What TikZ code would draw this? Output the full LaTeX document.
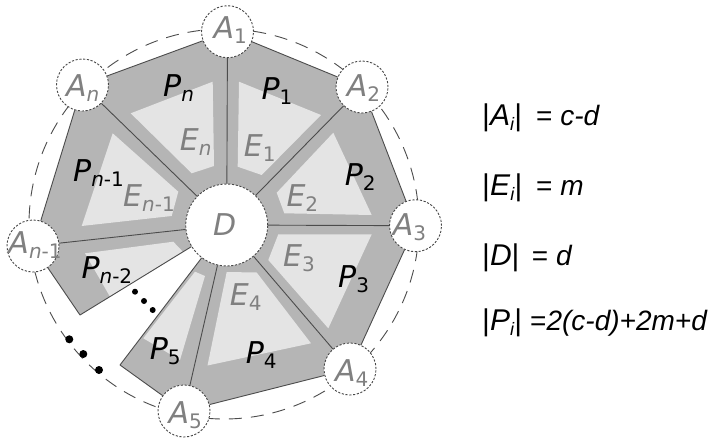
\documentclass[tikz,border=0pt]{standalone}
\usepackage{fontspec}
\setmainfont{DejaVu Sans}
\newfontfamily\arialf{Liberation Sans}
\definecolor{pgray}{gray}{0.71}
\definecolor{egray}{gray}{0.895}
\definecolor{lcol}{gray}{0.30}
\definecolor{ccol}{gray}{0.28}
\definecolor{tgray}{gray}{0.50}
\newcommand\sbs[1]{\raisebox{-5pt}{\fontsize{20}{20}\selectfont #1}}
\newcommand\rsbs[1]{\raisebox{-5pt}{\fontsize{18}{18}\selectfont\textit{#1}}}
\begin{document}
\begin{tikzpicture}[x=1pt,y=-1pt,
  pfill/.style={fill=pgray},
  efill/.style={fill=egray},
  edge/.style={draw=lcol, line width=0.9pt},
  ring/.style={draw=lcol, line width=0.9pt, dash pattern=on 13pt off 9pt},
  acirc/.style={circle, draw=ccol, fill=white, dash pattern=on 2.2pt off 1.6pt, line width=0.9pt, minimum size=52pt, inner sep=0pt},
  dcirc/.style={acirc, minimum size=82pt},
  lab/.style={inner sep=0pt, anchor=base west, font=\fontsize{30}{30}\selectfont},
  alab/.style={lab, text=tgray},
  plab/.style={lab, text=black},
  elab/.style={lab, text=tgray},
  eqa/.style={inner sep=0pt, anchor=base west, font=\arialf\fontsize{30}{30}\selectfont},
  eqb/.style={inner sep=0pt, anchor=base west, font=\arialf\fontsize{28}{28}\selectfont},
  bigdot/.style={circle, fill=black, inner sep=0pt, minimum size=8pt},
  smalldot/.style={circle, fill=black, inner sep=0pt, minimum size=6pt}]
\useasboundingbox (0,0) rectangle (711,442);
\fill[white] (0,0) rectangle (711,442);
% coordinates
\coordinate (cD) at (226.7,225);
\coordinate (cA1) at (227.5,31.7);
\coordinate (cA2) at (362,87);
\coordinate (cA3) at (415.5,225.7);
\coordinate (cA4) at (350,369);
\coordinate (cA5) at (184,411);
\coordinate (cAn) at (82.5,85);
\coordinate (cAm) at (33,246);
\coordinate (q1) at (80,315);
\coordinate (q2) at (120,365);
% outer dashed circle
\draw[ring] (224,224) circle[radius=195pt];
% sectors
\fill[pfill] (cD) -- (q1) -- (cAm) -- (cAn) -- (cA1) -- (cA2) -- (cA3) -- (cA4) -- (cA5) -- (q2) -- cycle;
% inner light regions
\fill[efill] (130.7,113.3) -- (212.7,81.7) -- (214,166) -- (191.7,173.3) -- cycle;
\fill[efill] (112.7,133.3) -- (178.3,191.7) -- (171.7,216) -- (81.7,226) -- cycle;
\fill[efill] (239,81.7) -- (321,115) -- (261.7,175) -- (237.7,166.7) -- cycle;
\fill[efill] (333.3,132.7) -- (371.7,215) -- (284.3,213.3) -- (276.7,192.7) -- cycle;
\fill[efill] (278.3,234.3) -- (371.7,234.3) -- (328.3,328.3) -- (268.3,260) -- cycle;
\fill[efill] (226.7,272) -- (256.7,272.5) -- (311,343.3) -- (207.5,365.5) -- cycle;
\fill[efill] (195,271.7) -- (205,276) -- (180,360) -- (143.3,338.3) -- cycle;
\fill[efill] (85,253.3) -- (173.3,241.7) -- (182.7,251.5) -- (110,296.7) -- cycle;
% circles
\node[dcirc] (d) at (cD) {};
\node[acirc] (a1) at (cA1) {};
\node[acirc] (a2) at (cA2) {};
\node[acirc] (a3) at (cA3) {};
\node[acirc] (a4) at (cA4) {};
\node[acirc] (a5) at (cA5) {};
\node[acirc] (an) at (cAn) {};
\node[acirc] (am) at (cAm) {};
% radial lines
\draw[edge] (d) -- (a1);
\draw[edge] (d) -- (a2);
\draw[edge] (d) -- (a3);
\draw[edge] (d) -- (a4);
\draw[edge] (d) -- (a5);
\draw[edge] (d) -- (an);
\draw[edge] (d) -- (am);
\draw[edge] (d) -- (q1);
\draw[edge] (d) -- (q2);
% outer edges
\draw[edge] (am) -- (an);
\draw[edge] (an) -- (a1);
\draw[edge] (a1) -- (a2);
\draw[edge] (a2) -- (a3);
\draw[edge] (a3) -- (a4);
\draw[edge] (a4) -- (a5);
\draw[edge] (a5) -- (q2);
\draw[edge] (am) -- (q1);
% labels
\node[alab] (la1) at (213.3,38.3) {\textit{A}\sbs{1}};
\node[alab] (la2) at (346.7,96.7) {\textit{A}\sbs{2}};
\node[alab] (la3) at (392.7,235) {\textit{A}\sbs{3}};
\node[alab] (la4) at (335,381.7) {\textit{A}\sbs{4}};
\node[alab] (la5) at (168.3,423.3) {\textit{A}\sbs{5}};
\node[alab] (lan) at (66,96) {\textit{A}\sbs{\textit{n}}};
\node[alab] (lam) at (8.3,253.3) {\textit{A}\sbs{\textit{n}-1}};
\node[alab] (ld) at (213,235) {\textit{D}};
\node[plab] (lpn) at (163,96.7) {\textit{P}\sbs{\textit{n}}};
\node[plab] (lp1) at (261.3,99.3) {\textit{P}\sbs{1}};
\node[plab] (lp2) at (344.7,185) {\textit{P}\sbs{2}};
\node[plab] (lp3) at (338,287.7) {\textit{P}\sbs{3}};
\node[plab] (lp4) at (245.7,363.3) {\textit{P}\sbs{4}};
\node[plab] (lp5) at (149.7,359.3) {\textit{P}\sbs{5}};
\node[plab] (lpm) at (73,181.7) {\textit{P}\sbs{\textit{n}-1}};
\node[plab] (lpmm) at (81.3,278.3) {\textit{P}\sbs{\textit{n}-2}};
\node[elab] (len) at (179.7,150) {\textit{E}\sbs{\textit{n}}};
\node[elab] (le1) at (243.7,156.7) {\textit{E}\sbs{1}};
\node[elab] (le2) at (286.3,206.7) {\textit{E}\sbs{2}};
\node[elab] (le3) at (283,266.7) {\textit{E}\sbs{3}};
\node[elab] (le4) at (229.7,305.7) {\textit{E}\sbs{4}};
\node[elab] (lem) at (123,206.7) {\textit{E}\sbs{\textit{n}-1}};
% dots
\node[smalldot] (s1) at (135,291.7) {};
\node[smalldot] (s2) at (144,301) {};
\node[smalldot] (s3) at (152.7,310) {};
\node[bigdot] (b1) at (69.3,339.3) {};
\node[bigdot] (b2) at (83.3,354) {};
\node[bigdot] (b3) at (99,370) {};
% equations
\node[eqa] (r1a) at (482,125) {|\textit{A}\rsbs{i}|};
\node[eqb] (r1b) at (536,125) {= \textit{c-d}};
\node[eqa] (r2a) at (482,195) {|\textit{E}\rsbs{i}|};
\node[eqb] (r2b) at (536,195) {= \textit{m}};
\node[eqa] (r3a) at (482,265) {|\textit{D}|};
\node[eqb] (r3b) at (531.7,265) {= \textit{d}};
\node[eqa] (r4a) at (482,330) {|\textit{P}\rsbs{i}|};
\node[eqb] (r4b) at (530,330) {=\textit{2(c-d)+2m+d}};
\end{tikzpicture}
\end{document}
